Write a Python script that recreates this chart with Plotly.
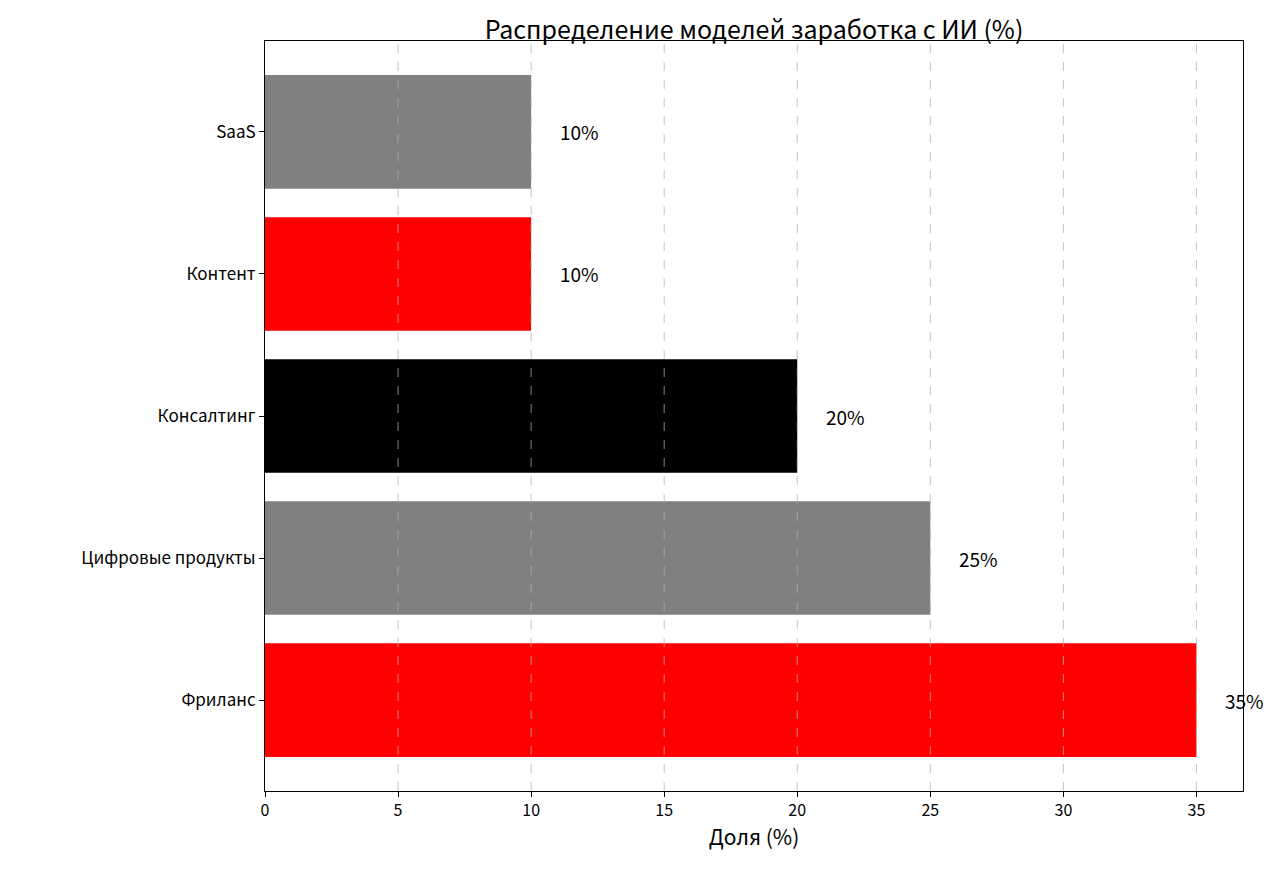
import plotly.graph_objects as go

categories = ["Фриланс", "Цифровые продукты", "Консалтинг", "Контент", "SaaS"]
shares = [35, 25, 20, 10, 10]
colors = ["#ff0000", "#808080", "#000000", "#ff0000", "#808080"]
x_ticks = [0, 5, 10, 15, 20, 25, 30, 35]

font = "Noto Sans CJK JP"

fig = go.Figure(go.Bar(
    x=shares, y=categories, orientation="h",
    marker=dict(color=colors, line_width=0),
    width=0.8,
))

for c, v in zip(categories, shares):
    fig.add_annotation(x=v + 1, y=c, text=f"{v}%", showarrow=False,
                       xanchor="left", yanchor="middle",
                       font=dict(family=font, size=19, color="black"))

# dashed grid drawn over the bars, like the original
for t in x_ticks[1:]:
    fig.add_shape(type="line", xref="x", yref="paper", x0=t, x1=t, y0=0, y1=1,
                  line=dict(color="rgba(176,176,176,0.75)", width=1, dash="dash"),
                  layer="above")

fig.update_layout(
    width=1280, height=875,
    margin=dict(l=257, r=45, t=33, b=92),
    paper_bgcolor="white", plot_bgcolor="white",
    showlegend=False,
    title=dict(text="Распределение моделей заработка с ИИ (%)", x=0.5, xref="paper",
               y=0.985, yanchor="top", font=dict(family=font, size=25, color="black")),
    font=dict(family=font, size=16, color="black"),
)
fig.update_xaxes(range=[0, 36.75], tickvals=x_ticks, showgrid=False, zeroline=False,
                 showline=True, linecolor="black", linewidth=1, mirror=True,
                 ticks="outside", ticklen=5, tickcolor="black",
                 title=dict(text="Доля (%)", font=dict(family=font, size=21), standoff=8))
fig.update_yaxes(range=[-0.64, 4.64], showgrid=False, zeroline=False,
                 showline=True, linecolor="black", linewidth=1, mirror=True,
                 ticks="outside", ticklen=5, tickcolor="black",
                 tickfont=dict(size=17))

fig.write_html("out.html")
